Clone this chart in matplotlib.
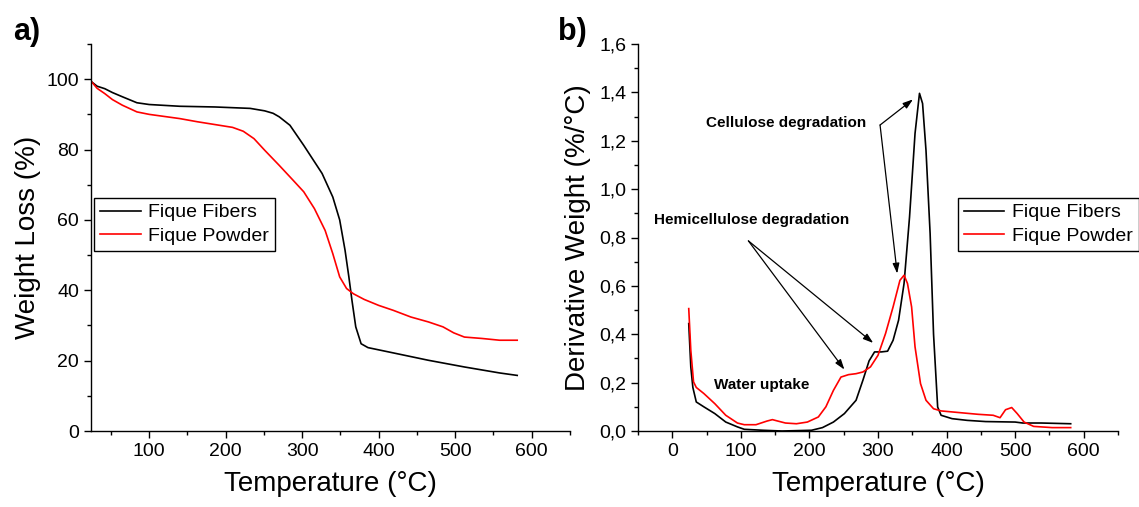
import matplotlib
matplotlib.use('Agg')
import matplotlib.pyplot as plt
from matplotlib.ticker import MultipleLocator, FuncFormatter

plt.rcParams['font.family'] = ['Liberation Sans', 'DejaVu Sans']

# TGA curves (weight %)
tga_fib_T = [25, 32, 42, 52, 65, 84, 100, 140, 186, 232, 251, 262, 270, 284, 302, 326, 340, 349,
             356, 361, 365, 370, 377, 386, 419, 465, 512, 558, 581]
tga_fib_W = [99.2, 98.0, 97.3, 96.2, 95.0, 93.3, 92.8, 92.3, 92.1, 91.7, 91.0, 90.3, 89.3, 86.9,
             81.2, 73.2, 66.5, 60.0, 51.4, 43.8, 37.2, 29.6, 24.8, 23.7, 22.2, 20.1, 18.2,
             16.5, 15.8]
tga_pow_T = [25, 32, 42, 52, 65, 84, 100, 140, 163, 186, 209, 223, 237, 251, 270, 288, 302, 316,
             330, 340, 349, 358, 367, 381, 400, 419, 442, 465, 484, 498, 512, 535, 558, 581]
tga_pow_W = [99.2, 97.4, 95.9, 94.2, 92.6, 90.7, 90.0, 88.8, 87.9, 87.1, 86.3, 85.2, 83.1,
             79.8, 75.5, 71.3, 68.0, 63.2, 57.0, 50.4, 43.8, 40.5, 39.0, 37.4, 35.7, 34.3,
             32.4, 31.0, 29.6, 27.9, 26.7, 26.3, 25.8, 25.8]

# DTG curves (%/°C)
dtg_fib_T = [24, 27, 30, 35, 46, 62, 78, 95, 105, 132, 160, 203, 219, 235, 251, 268, 278,
             287, 295, 305, 314, 322, 330, 338, 346, 354, 360.5, 365, 370, 376, 381, 387,
             392, 408, 430, 457, 500, 511, 538, 581]
dtg_fib_D = [0.444, 0.265, 0.18, 0.12, 0.10, 0.072, 0.037, 0.017, 0.007, 0.003, 0.0, 0.003,
             0.014, 0.037, 0.072, 0.127, 0.21, 0.29, 0.327, 0.327, 0.33, 0.375, 0.458, 0.61,
             0.885, 1.23, 1.396, 1.354, 1.16, 0.817, 0.40, 0.099, 0.065, 0.051, 0.044, 0.039,
             0.037, 0.033, 0.033, 0.030]
dtg_pow_T = [24, 27, 31, 35, 46, 62, 78, 95, 105, 122, 138, 146, 154, 165, 181, 197, 213,
             224, 235, 246, 257, 268, 278, 289, 300, 311, 322, 332, 338, 343, 349, 354, 362,
             370, 381, 392, 419, 446, 468, 478, 486, 495, 503, 513, 527, 554, 581]
dtg_pow_D = [0.506, 0.334, 0.203, 0.18, 0.155, 0.113, 0.065, 0.033, 0.026, 0.026, 0.041,
             0.047, 0.041, 0.033, 0.030, 0.037, 0.058, 0.10, 0.168, 0.223, 0.233, 0.237,
             0.244, 0.265, 0.313, 0.403, 0.513, 0.623, 0.644, 0.61, 0.513, 0.348, 0.196,
             0.127, 0.092, 0.083, 0.076, 0.069, 0.065, 0.055, 0.088, 0.097, 0.072, 0.037,
             0.019, 0.014, 0.014]

labels = ['Fique Fibers', 'Fique Powder']
colors = ['black', 'red']

fig = plt.figure(figsize=(11.39, 5.07), dpi=100)
ax1 = fig.add_axes([91 / 1139, 76 / 507, 479 / 1139, 387 / 507])
ax2 = fig.add_axes([638 / 1139, 76 / 507, 480 / 1139, 387 / 507])


def style(ax):
    for s in ['top', 'right']:
        ax.spines[s].set_visible(False)
    for s in ['left', 'bottom']:
        ax.spines[s].set_linewidth(1.0)
    ax.tick_params(which='major', direction='out', length=5, width=1, labelsize=14)
    ax.tick_params(which='minor', direction='out', length=3, width=1)


legend_kw = dict(loc='upper left', fontsize=14, frameon=True, fancybox=False,
                 edgecolor='black', framealpha=1, handlelength=2.1, borderpad=0.3,
                 labelspacing=0.3, handletextpad=0.4, borderaxespad=0)

# panel a
ax1.plot(tga_fib_T, tga_fib_W, color=colors[0], lw=1.2, label=labels[0])
ax1.plot(tga_pow_T, tga_pow_W, color=colors[1], lw=1.2, label=labels[1])
ax1.set_xlim(24, 650)
ax1.set_ylim(0, 110)
ax1.set_xticks([100, 200, 300, 400, 500, 600])
ax1.xaxis.set_minor_locator(MultipleLocator(50))
ax1.set_yticks([0, 20, 40, 60, 80, 100])
ax1.yaxis.set_minor_locator(MultipleLocator(10))
style(ax1)
ax1.set_xlabel('Temperature (°C)', fontsize=20, labelpad=8)
ax1.set_ylabel('Weight Loss (%)', fontsize=20, labelpad=4)
leg1 = ax1.legend(bbox_to_anchor=(0.006, 0.602), **legend_kw)
leg1.get_frame().set_linewidth(1.0)

# panel b
ax2.plot(dtg_fib_T, dtg_fib_D, color=colors[0], lw=1.2, label=labels[0])
ax2.plot(dtg_pow_T, dtg_pow_D, color=colors[1], lw=1.2, label=labels[1])
ax2.set_xlim(-50, 650)
ax2.set_ylim(0, 1.6)
ax2.set_xticks([0, 100, 200, 300, 400, 500, 600])
ax2.xaxis.set_minor_locator(MultipleLocator(50))
ax2.yaxis.set_major_locator(MultipleLocator(0.2))
ax2.yaxis.set_minor_locator(MultipleLocator(0.1))
ax2.yaxis.set_major_formatter(FuncFormatter(lambda v, p: f'{v:.1f}'.replace('.', ',')))
style(ax2)
ax2.set_xlabel('Temperature (°C)', fontsize=20, labelpad=8)
ax2.set_ylabel('Derivative Weight (%/°C)', fontsize=20, labelpad=6)
leg2 = ax2.legend(bbox_to_anchor=(0.666, 0.602), **legend_kw)
leg2.get_frame().set_linewidth(1.0)

arrow = dict(arrowstyle='-|>,head_length=0.6,head_width=0.2', color='black', lw=0.9,
             shrinkA=0, shrinkB=0)
ax2.text(166, 1.272, 'Cellulose degradation', fontsize=11, fontweight='bold',
         ha='center', va='center')
ax2.annotate('', xy=(351, 1.371), xytext=(303, 1.265), arrowprops=arrow)
ax2.annotate('', xy=(328, 0.651), xytext=(303, 1.265), arrowprops=arrow)
ax2.text(115, 0.872, 'Hemicellulose degradation', fontsize=11, fontweight='bold',
         ha='center', va='center')
ax2.annotate('', xy=(251, 0.254), xytext=(111, 0.786), arrowprops=arrow)
ax2.annotate('', xy=(293, 0.364), xytext=(111, 0.786), arrowprops=arrow)
ax2.text(130, 0.189, 'Water uptake', fontsize=11, fontweight='bold',
         ha='center', va='center')

fig.text(27 / 1139, 1 - 32 / 507, 'a)', fontsize=22, fontweight='bold', ha='center', va='center')
fig.text(572 / 1139, 1 - 32 / 507, 'b)', fontsize=22, fontweight='bold', ha='center', va='center')

fig.savefig('out.png', dpi=100)
